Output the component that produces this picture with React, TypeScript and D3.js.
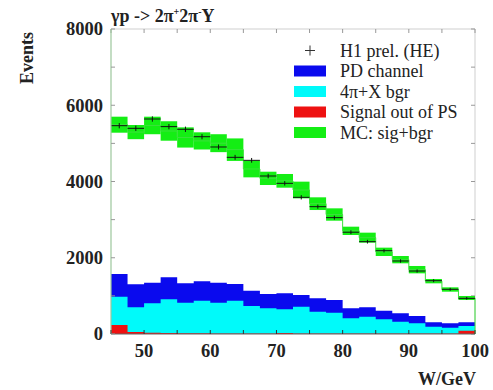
import React from "react";
import * as d3 from "d3";

const binEdges = [45, 47.5, 50, 52.5, 55, 57.5, 60, 62.5, 65, 67.5, 70, 72.5, 75, 77.5, 80, 82.5, 85, 87.5, 90, 92.5, 95, 97.5, 100];
const dataValues = [5464, 5395, 5639, 5439, 5369, 5175, 4905, 4634, 4555, 4144, 3952, 3585, 3340, 3052, 2670, 2422, 2185, 1915, 1652, 1398, 1172, 936];
const dataErrors = [70, 70, 70, 70, 70, 68, 66, 64, 62, 60, 58, 56, 54, 52, 50, 48, 46, 44, 42, 40, 38, 36];
const mcHigh = [5700, 5482, 5700, 5580, 5420, 5290, 5240, 5130, 4548, 4257, 4197, 3996, 3585, 3296, 2815, 2658, 2265, 2046, 1784, 1443, 1224, 997];
const mcLow = [5280, 5110, 5240, 5070, 4890, 4840, 4770, 4540, 4109, 3908, 3838, 3558, 3252, 2972, 2597, 2396, 2046, 1854, 1591, 1329, 1110, 892];
const pdChannel = [1574, 1303, 1346, 1486, 1329, 1381, 1346, 1311, 1136, 1049, 1066, 1023, 936, 892, 673, 699, 612, 542, 472, 306, 280, 306];
const bgr4pi = [979, 699, 805, 910, 821, 874, 821, 874, 734, 673, 647, 717, 586, 560, 411, 455, 385, 324, 280, 192, 166, 210];
const signalOut = [236, 50, 35, 25, 20, 20, 15, 15, 15, 15, 25, 15, 15, 15, 15, 15, 15, 15, 15, 15, 15, 87];

const xTicks = [50, 60, 70, 80, 90, 100];
const xMinor = [45, 50, 55, 60, 65, 70, 75, 80, 85, 90, 95, 100];
const yTicks = [0, 2000, 4000, 6000, 8000];
const yMinor = [0, 1000, 2000, 3000, 4000, 5000, 6000, 7000, 8000];

const legendItems = [
  { label: "H1 prel. (HE)", color: "cross" },
  { label: "PD channel", color: "#0a0aee" },
  { label: "4\u03c0+X bgr", color: "#00fafa" },
  { label: "Signal out of PS", color: "#ee1111" },
  { label: "MC: sig+bgr", color: "#14ee14" },
];

const W = 493;
const H = 390;

export default function App() {
  const x = d3.scaleLinear().domain([45, 100]).range([111, 475]);
  const y = d3.scaleLinear().domain([0, 8000]).range([334, 29]);
  const font = "'Liberation Serif', 'Times New Roman', serif";
  const bins = d3.range(dataValues.length);

  const stepPath = (vals: number[]) => {
    let p = `M${x(binEdges[0])},${y(0)}`;
    vals.forEach((v, i) => {
      p += `L${x(binEdges[i])},${y(v)}L${x(binEdges[i + 1])},${y(v)}`;
    });
    p += `L${x(binEdges[binEdges.length - 1])},${y(0)}`;
    return p;
  };
  const mcMid = mcHigh.map((h, i) => (h + mcLow[i]) / 2);

  return (
    <svg width={W} height={H} style={{ position: "absolute", left: 0, top: 0, background: "#fff" }} fontFamily={font}>
      {/* frame */}
      <line x1={x(45)} x2={x(100)} y1={y(8000)} y2={y(8000)} stroke="#cfcfcf" strokeWidth={1} />
      <line x1={x(100)} x2={x(100)} y1={y(8000)} y2={y(0)} stroke="#cfcfcf" strokeWidth={1} />
      {xMinor.map((t) => (
        <line key={"tt" + t} x1={x(t)} x2={x(t)} y1={y(8000)} y2={y(8000) + 4} stroke="#999" />
      ))}
      {yMinor.map((t) => (
        <line key={"rt" + t} x1={x(100) - 4} x2={x(100)} y1={y(t)} y2={y(t)} stroke="#999" />
      ))}

      {/* histograms */}
      <path d={stepPath(pdChannel)} fill="#0a0aee" />
      <path d={stepPath(bgr4pi)} fill="#00fafa" />
      <path d={stepPath(signalOut)} fill="#ee1111" />

      {/* MC band */}
      {bins.map((i) => (
        <rect key={"mc" + i} x={x(binEdges[i])} width={x(binEdges[i + 1]) - x(binEdges[i])}
          y={y(mcHigh[i])} height={y(mcLow[i]) - y(mcHigh[i])} fill="#14ee14" />
      ))}
      <path d={stepPath(mcMid).replace(/^M[^L]*L/, "M")} fill="none" stroke="#3ce03c" strokeWidth={1} />

      {/* data */}
      {bins.map((i) => {
        const cx = x((binEdges[i] + binEdges[i + 1]) / 2);
        return (
          <g key={"d" + i} stroke="#111" strokeWidth={1}>
            <line x1={x(binEdges[i])} x2={x(binEdges[i + 1])} y1={y(dataValues[i])} y2={y(dataValues[i])} />
            <line x1={cx} x2={cx} y1={y(dataValues[i] + dataErrors[i])} y2={y(dataValues[i] - dataErrors[i])} />
          </g>
        );
      })}

      {/* axes */}
      <line x1={x(45)} x2={x(45)} y1={y(0)} y2={y(8000)} stroke="#9cc79c" strokeWidth={1.2} />
      <line x1={x(45)} x2={x(100)} y1={y(0)} y2={y(0)} stroke="#666" strokeWidth={1} />
      {xMinor.map((t) => (
        <line key={"bt" + t} x1={x(t)} x2={x(t)} y1={y(0)} y2={y(0) - 4} stroke="#333" />
      ))}
      {yMinor.map((t) => (
        <line key={"lt" + t} x1={x(45)} x2={x(45) + 4} y1={y(t)} y2={y(t)} stroke="#999" />
      ))}
      {yTicks.map((t) => (
        <text key={"yl" + t} x={x(45) - 8} y={y(t)} dy="0.35em" textAnchor="end" fontSize={18.5} fontWeight="bold" fill="#222">
          {t}
        </text>
      ))}
      {xTicks.map((t) => (
        <text key={"xl" + t} x={x(t)} y={357} textAnchor="middle" fontSize={18.5} fontWeight="bold" fill="#222">
          {t}
        </text>
      ))}
      <text x={476} y={385} textAnchor="end" fontSize={18} fontWeight="bold" fill="#222">W/GeV</text>
      <text transform="translate(33,58) rotate(-90)" textAnchor="middle" fontSize={18} fontWeight="bold" fill="#222">Events</text>

      {/* title */}
      <text x={111} y={22} fontSize={18} fontWeight="bold" fill="#222">
        {"\u03b3p -> 2\u03c0"}
        <tspan fontSize={10} dy={-7}>+</tspan>
        <tspan dy={7}>{"2\u03c0"}</tspan>
        <tspan fontSize={10} dy={-7}>-</tspan>
        <tspan dy={7}>Y</tspan>
      </text>

      {/* legend */}
      {legendItems.map((it, i) => {
        const cy = 50.5 + i * 20.5;
        return (
          <g key={"lg" + i}>
            {it.color === "cross" ? (
              <g stroke="#333" strokeWidth={1}>
                <line x1={305} x2={315} y1={cy} y2={cy} />
                <line x1={310} x2={310} y1={cy - 5} y2={cy + 5} />
              </g>
            ) : (
              <rect x={294} y={cy - 5.5} width={32} height={11} fill={it.color} />
            )}
            <text x={340} y={cy + 6} fontSize={18} fill="#222">{it.label}</text>
          </g>
        );
      })}
    </svg>
  );
}
